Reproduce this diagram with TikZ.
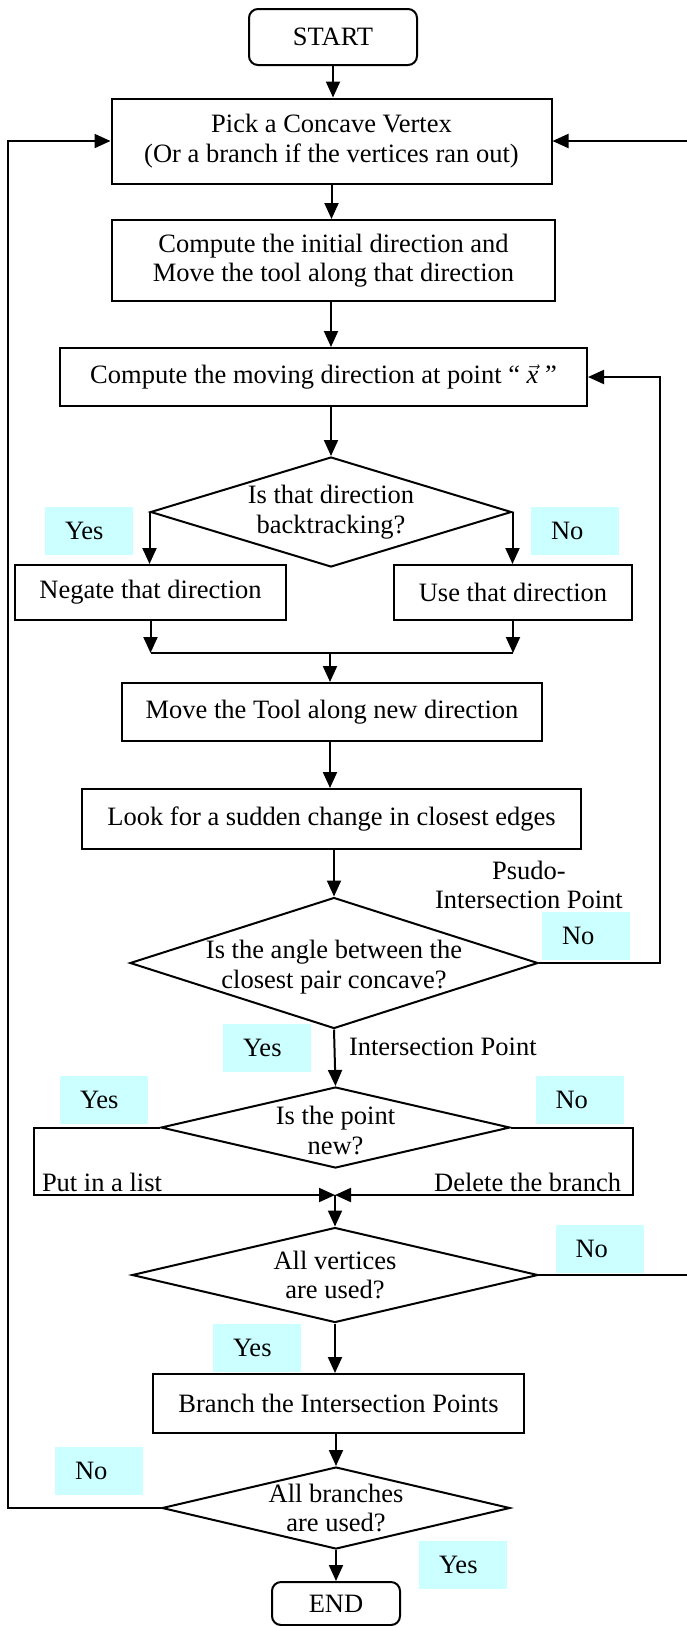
\documentclass[tikz,border=0pt]{standalone}
\usepackage{fontspec}
\setmainfont{Liberation Serif}
\usetikzlibrary{shapes.geometric,arrows.meta}
\definecolor{lblcyan}{RGB}{204,255,255}

\begin{document}
\begin{tikzpicture}[x=1pt,y=-1pt,
  font=\fontsize{26.5}{29.5}\selectfont,
  line width=2pt,
  arr/.style={-{Triangle[length=16pt,width=14pt]}},
  proc/.style={draw,rectangle,align=center,inner sep=0pt},
  term/.style={proc,rounded corners=9pt},
  dec/.style={draw,diamond,inner sep=0pt},
  dtext/.style={align=center,inner sep=0pt},
  lbl/.style={fill=lblcyan,align=left,text width=48pt,inner xsep=20pt,inner ysep=0pt,minimum height=48pt},
  txt/.style={inner sep=0pt}]
\useasboundingbox (0,0) rectangle (687,1626);
\clip (0,0) rectangle (687,1626);

\node[term,minimum width=168,minimum height=56] (start) at (333,37) {START};
\node[proc,minimum width=440,minimum height=85] (pick) at (331.5,141) {Pick a Concave Vertex\\(Or a branch if the vertices ran out)};
\node[proc,minimum width=443,minimum height=81] (init) at (333.5,260.5) {Compute the initial direction and\\Move the tool along that direction};
\node[proc,minimum width=527,minimum height=58] (moving) at (323.5,377) {Compute the moving direction at point “ $\vec{\textit{x}}$ ”};
\node[dec,minimum width=361,minimum height=110,label={[dtext]center:Is that direction\\backtracking?}] (d1) at (331,512) {};
\node[proc,minimum width=271,minimum height=55] (negate) at (150.5,592.5) {Negate that direction};
\node[proc,minimum width=238,minimum height=55] (use) at (513,592.5) {Use that direction};
\node[proc,minimum width=420,minimum height=58] (move) at (332,712) {Move the Tool along new direction};
\node[proc,minimum width=499,minimum height=60] (look) at (331.5,819) {Look for a sudden change in closest edges};
\node[dec,minimum width=408,minimum height=131,label={[dtext,yshift=-4pt]center:Is the angle between the\\closest pair concave?}] (d2) at (334,963) {};
\node[dec,minimum width=349,minimum height=81,label={[dtext,yshift=-3pt]center:Is the point\\new?}] (d3) at (335.5,1127.5) {};
\node[dec,minimum width=406,minimum height=95,label={[dtext]center:All vertices\\are used?}] (d4) at (335,1275) {};
\node[proc,minimum width=371,minimum height=59] (branch) at (338.5,1403.5) {Branch the Intersection Points};
\node[dec,minimum width=348,minimum height=82,label={[dtext]center:All branches\\are used?}] (d5) at (336,1508) {};
\node[term,minimum width=128,minimum height=43] (end) at (336,1603.5) {END};

\node[lbl] (yes1) at (89,530.5) {Yes};
\node[lbl] (no1) at (575,530.5) {No};
\node[lbl] (no2) at (586,935.5) {No};
\node[lbl] (yes2) at (267,1048) {Yes};
\node[lbl] (yes3) at (104,1099.5) {Yes};
\node[lbl] (no3) at (579.5,1099.5) {No};
\node[lbl] (no4) at (599.5,1248.5) {No};
\node[lbl] (yes4) at (257,1347.5) {Yes};
\node[lbl] (no5) at (99,1470.5) {No};
\node[lbl] (yes5) at (463,1565) {Yes};

\node[txt,align=center] (pseudo) at (529,885) {Psudo-\\Intersection Point};
\node[txt,anchor=west] (ipoint) at (348,1047) {Intersection Point};
\node[txt,anchor=west] (putlist) at (41,1182) {Put in a list};
\node[txt,anchor=east] (delbranch) at (622,1182) {Delete the branch};

\coordinate (spine) at (331,0);
\coordinate (jn) at (330,653);
\coordinate (jn2) at (335,1195);
\coordinate (lcorner) at (34,1195);
\coordinate (rcorner) at (633,1195);
\coordinate (rloop) at (660,0);
\coordinate (rout) at (690,0);
\coordinate (lloop) at (8,0);

\draw[arr] (start.south) -- (start.south |- pick.north);
\draw[arr] (pick.south) -- (pick.south |- init.north);
\draw[arr] (spine |- init.south) -- (spine |- moving.north);
\draw[arr] (moving.south -| d1.north) -- (d1.north);

\draw[arr] (d1.west) -- (d1.west |- negate.north);
\draw[arr] (d1.east) -- (d1.east |- use.north);
\draw[arr] (negate.south) -- (negate.south |- jn);
\draw[arr] (use.south) -- (use.south |- jn);
\draw (negate.south |- jn) -- (use.south |- jn);
\draw[arr] (jn) -- (jn |- move.north);
\draw[arr] (move.south -| jn) -- (jn |- look.north);
\draw[arr] (look.south -| d2.north) -- (d2.north);

\draw[arr] (d2.east) -| (rloop |- moving.east) -- (moving.east);
\draw[arr] (d2.south) -- (d3.north);
\draw[arr] (d3.west) -| (lcorner) -- (jn2);
\draw[arr] (d3.east) -| (rcorner) -- (jn2);
\draw[arr] (jn2) -- (d4.north);

\draw[arr] (d4.east) -| (rout |- pick.east) -- (pick.east);
\draw[arr] (d4.south) -- (d4.south |- branch.north);
\draw[arr] (branch.south -| d5.north) -- (d5.north);
\draw[arr] (d5.west) -| (lloop |- pick.west) -- (pick.west);
\draw[arr] (d5.south) -- (d5.south |- end.north);
\end{tikzpicture}
\end{document}
